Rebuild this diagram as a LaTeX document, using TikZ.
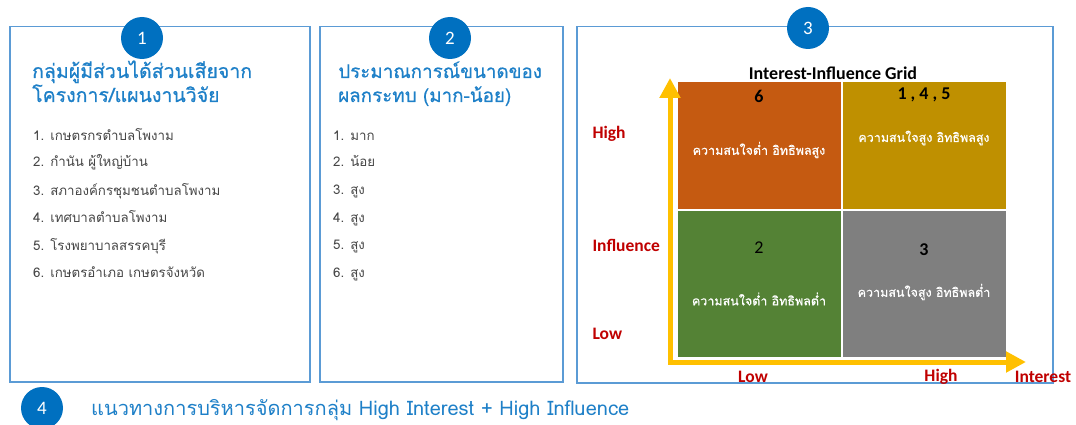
\documentclass[tikz,border=0pt]{standalone}
\usepackage{fontspec}
\setmainfont{Carlito}
\newfontfamily\thai[Script=Thai]{Loma}
\newfontfamily\thaiheavy[Script=Thai,FakeBold=0.6]{Loma}
\usetikzlibrary{arrows.meta}
\definecolor{boxblue}{RGB}{91,155,213}
\definecolor{circblue}{RGB}{0,112,192}
\definecolor{titleblue}{RGB}{30,128,200}
\definecolor{listgrey}{RGB}{70,70,70}
\definecolor{cellorange}{RGB}{197,90,17}
\definecolor{cellgold}{RGB}{191,144,0}
\definecolor{cellgreen}{RGB}{84,130,53}
\definecolor{cellgrey}{RGB}{127,127,127}
\definecolor{axisyellow}{RGB}{255,192,0}
\definecolor{labelred}{RGB}{192,0,0}
\begin{document}
\begin{tikzpicture}[x=1pt,y=-1pt,
  panel/.style={draw=boxblue, line width=1.5pt, inner sep=0pt, anchor=north west},
  badge/.style={circle, fill=circblue, minimum size=42pt, inner sep=0pt, text=white, font=\fontsize{19}{19}\selectfont},
  ptitle/.style={anchor=base west, inner sep=0pt, text=titleblue, font=\thaiheavy\fontsize{19.5}{19.5}\selectfont},
  item/.style={anchor=base west, inner sep=0pt, text=listgrey, font=\thai\fontsize{13.3}{13.3}\selectfont},
  cell/.style={anchor=north west, inner sep=0pt, minimum width=163pt},
  cellnum/.style={font=\bfseries\fontsize{18}{18}\selectfont, text=black},
  celltext/.style={font=\thaiheavy\fontsize{12.5}{12.5}\selectfont, text=white},
  axislabel/.style={font=\bfseries\fontsize{17.5}{17.5}\selectfont, text=labelred},
  axis/.style={draw=axisyellow, line width=5pt, line join=miter, {Triangle[length=20pt,width=20pt]}-{Triangle[length=20pt,width=20pt]}}
]
\useasboundingbox[fill=white] (0,0) rectangle (1076,425);

% panels
\node[panel, minimum width=300pt, minimum height=355pt] (p1) at (9,26) {};
\node[panel, minimum width=243pt, minimum height=355pt] (p2) at (319,26) {};
\node[panel, minimum width=476pt, minimum height=356pt] (p3) at (576,26) {};

% badges
\node[badge] (c1) at (142,38) {1};
\node[badge] (c2) at (450,38) {2};
\node[badge] (c3) at (808,28) {3};
\node[badge] (c4) at (42,408) {4};

% panel 1
\node[ptitle] (t1a) at (32,78) {กลุ่มผู้มีส่วนได้ส่วนเสียจาก};
\node[ptitle] (t1b) at (32,102) {โครงการ/แผนงานวิจัย};
\node[item] (a1) at (33,140) {1. เกษตรกรตำบลโพงาม};
\node[item] (a2) at (33,167) {2. กำนัน ผู้ใหญ่บ้าน};
\node[item] (a3) at (33,195) {3. สภาองค์กรชุมชนตำบลโพงาม};
\node[item] (a4) at (33,222) {4. เทศบาลตำบลโพงาม};
\node[item] (a5) at (33,250) {5. โรงพยาบาลสรรคบุรี};
\node[item] (a6) at (33,277) {6. เกษตรอำเภอ เกษตรจังหวัด};

% panel 2
\node[ptitle, font=\thaiheavy\fontsize{18.8}{18.8}\selectfont] (t2a) at (338,78) {ประมาณการณ์ขนาดของ};
\node[ptitle, font=\thaiheavy\fontsize{18.8}{18.8}\selectfont] (t2b) at (338,102) {ผลกระทบ (มาก-น้อย)};
\node[item] (b1) at (333,140) {1. มาก};
\node[item] (b2) at (333,167) {2. น้อย};
\node[item] (b3) at (333,194) {3. สูง};
\node[item] (b4) at (333,222) {4. สูง};
\node[item] (b5) at (333,249) {5. สูง};
\node[item] (b6) at (333,277) {6. สูง};

% grid
\node[font=\bfseries\fontsize{18}{18}\selectfont] (gt) at (833,73) {Interest-Influence Grid};
\node[cell, fill=cellorange, minimum height=127pt] (tl) at (678,82) {};
\node[cell, fill=cellgold, minimum height=127pt] (tr) at (843,82) {};
\node[cell, fill=cellgreen, minimum height=146pt] (bl) at (678,211) {};
\node[cell, fill=cellgrey, minimum height=146pt] (br) at (843,211) {};

\node[cellnum] (n6) at (759,96) {6};
\node[celltext] (x6) at (759,150) {ความสนใจต่ำ อิทธิพลสูง};
\node[cellnum] (n145) at (924,95) {1 , 4 , 5};
\node[celltext] (x145) at (924,138) {ความสนใจสูง อิทธิพลสูง};
\node[cellnum, font=\fontsize{18}{18}\selectfont] (n2) at (759,248) {2};
\node[celltext] (x2) at (759,299) {ความสนใจต่ำ อิทธิพลต่ำ};
\node[cellnum] (n3) at (924,250) {3};
\node[celltext] (x3) at (924,292) {ความสนใจสูง อิทธิพลต่ำ};

% axes
\coordinate (ytip) at (670,78);
\coordinate (xtip) at (1026,362);
\draw[axis] (ytip) |- (xtip);

\node[axislabel, anchor=west] (lh) at (589,134) {High};
\node[axislabel, anchor=west] (li) at (589,245) {Influence};
\node[axislabel, anchor=west] (ll) at (589,334) {Low};
\node[axislabel] (bl1) at (753,377) {Low};
\node[axislabel] (bh1) at (941,377) {High};
\node[axislabel] (bi1) at (1043,377) {Interest};

% item 4
\node[anchor=base west, inner sep=0pt, text=titleblue, font=\thai\fontsize{20}{20}\selectfont] (g4) at (91,415) {แนวทางการบริหารจัดการกลุ่ม High Interest + High Influence};
\end{tikzpicture}
\end{document}
